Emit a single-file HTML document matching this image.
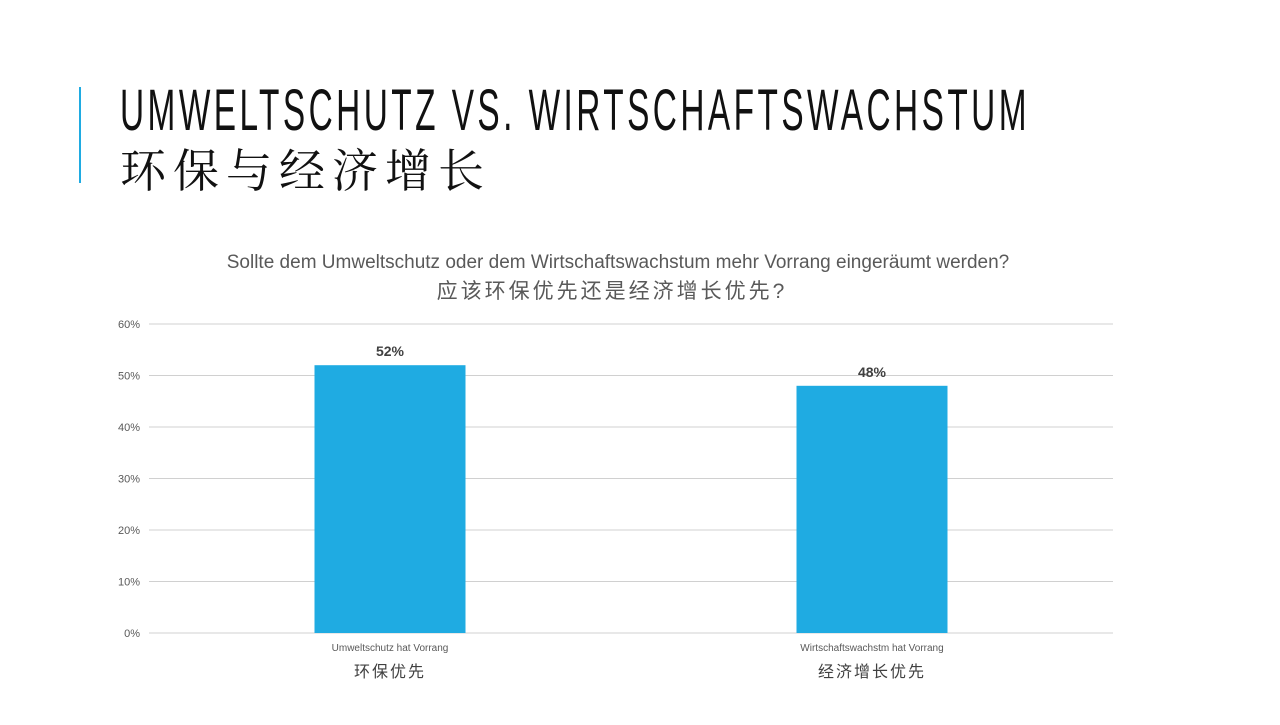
<!DOCTYPE html>
<html><head><meta charset="utf-8"><style>
body{margin:0;background:#fff;}
svg text{font-family:"Liberation Sans","Noto Sans CJK SC",sans-serif;}
</style></head><body>
<svg width="1280" height="720" viewBox="0 0 1280 720">
<rect x="79" y="87" width="2" height="96" fill="#1fabe2"/>
<text x="120" y="130" font-size="58" fill="#111" letter-spacing="6" textLength="910" lengthAdjust="spacingAndGlyphs">UMWELTSCHUTZ VS. WIRTSCHAFTSWACHSTUM</text>
<text x="120" y="187" font-size="46" fill="#111" letter-spacing="7" style='font-family:"Noto Serif CJK SC",serif'>环保与经济增长</text>
<text x="618" y="268" font-size="19" fill="#595959" text-anchor="middle">Sollte dem Umweltschutz oder dem Wirtschaftswachstum mehr Vorrang eingeräumt werden?</text>
<text x="612" y="298" font-size="21" fill="#595959" text-anchor="middle" letter-spacing="3">应该环保优先还是经济增长优先?</text>
<g id="chart"></g>
</svg>
<script>
const categories=["Umweltschutz hat Vorrang","Wirtschaftswachstm hat Vorrang"];
const categoriesZh=["环保优先","经济增长优先"];
const values=[52,48];
const valueLabels=["52%","48%"];
const ticks=[0,10,20,30,40,50,60];
const NS="http://www.w3.org/2000/svg";
const g=document.getElementById('chart');
const x0=149,x1=1113,yBase=633,yTop=324,yMax=60;
const y=v=>yBase-(v/yMax)*(yBase-yTop);
const band=(x1-x0)/categories.length;
const cx=i=>x0+band*(i+0.5);
const bw=151;
function mk(t,a){const e=document.createElementNS(NS,t);for(const k in a)e.setAttribute(k,a[k]);g.appendChild(e);return e;}
ticks.forEach(t=>{
 const l=mk('line',{x1:x0,x2:x1,y1:y(t),y2:y(t),stroke:'#d0d0d0','stroke-width':1});
 
 
 const tx=mk('text',{x:140,y:y(t)+4,'font-size':11,fill:'#595959','text-anchor':'end'});
 tx.textContent=t+'%';
 
 
});
values.forEach((v,i)=>{
 const r=mk('rect',{x:cx(i)-bw/2,y:y(v),width:bw,height:yBase-y(v),fill:'#1fabe2'});
 
 
 const lb=mk('text',{x:cx(i),y:y(v)-9,'font-size':14,'font-weight':'bold',fill:'#404040','text-anchor':'middle'});
 lb.textContent=valueLabels[i];
 
 
 const c=mk('text',{x:cx(i),y:651,'font-size':10,fill:'#595959','text-anchor':'middle'});
 c.textContent=categories[i];
 
 
 const cz=mk('text',{x:cx(i),y:677,'font-size':16,fill:'#404040','text-anchor':'middle','letter-spacing':2});
 cz.textContent=categoriesZh[i];
 
 
});
</script>
</body></html>
